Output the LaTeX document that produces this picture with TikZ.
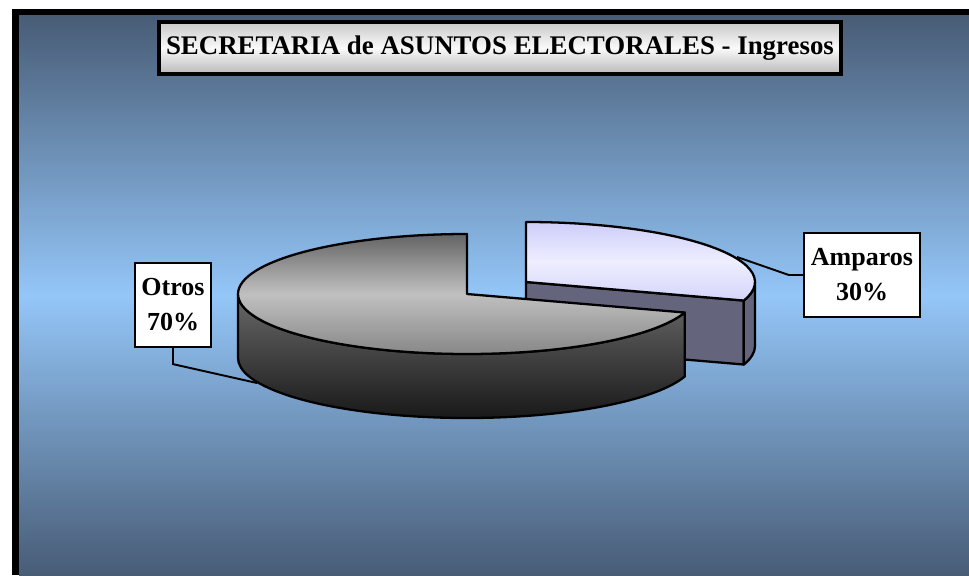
\documentclass[tikz,border=0pt]{standalone}
\usepackage{fontspec}
\setmainfont{Liberation Serif}
\usepackage{tikz}
\usetikzlibrary{calc}

\definecolor{bgdark}{RGB}{72,92,118}
\definecolor{bglight}{RGB}{148,198,248}
\definecolor{ttlA}{RGB}{200,200,200}
\definecolor{ttlB}{RGB}{250,250,250}
\definecolor{ttlC}{RGB}{185,185,185}
\definecolor{otrTopA}{RGB}{100,100,100}
\definecolor{otrTopB}{RGB}{192,192,192}
\definecolor{otrTopC}{RGB}{135,135,135}
\definecolor{otrSideA}{RGB}{105,105,105}
\definecolor{otrSideB}{RGB}{20,20,20}
\definecolor{ampTopA}{RGB}{205,205,250}
\definecolor{ampTopB}{RGB}{238,238,255}
\definecolor{ampTopC}{RGB}{212,212,250}
\definecolor{ampSide}{RGB}{100,100,125}

\begin{document}
\begin{tikzpicture}[x = 0.02cm, y = 0.02cm,
edge/.style = {line width = 1.3pt, line join = round},
rim/.style = {x radius = 229, y radius = 60},
lbl/.style = {draw, fill = white, line width = 1.3pt, align = center, inner sep = 0pt,
  minimum height = 1.68cm, font = \bfseries\fontsize{14.8}{19.9}\selectfont},
ttl/.style = {draw, line width = 1.8pt, top color = ttlA, bottom color = ttlC, middle color = ttlB,
  minimum width = 13.64cm, minimum height = 1.04cm, font = \bfseries\fontsize{15.3}{18}\selectfont}
]
\useasboundingbox (0,0) rectangle (969,575);
% frame and background
\fill[white] (0,0) rectangle (969,575);
\fill[black] (12,0) rectangle (969,566);
\shade[top color = bgdark, bottom color = bgdark, middle color = bglight] (19,0) rectangle (969,559);

\node[ttl] (title) at (500,527) {SECRETARIA de ASUNTOS ELECTORALES - Ingresos};

\coordinate (otrosC) at (467,281);
\coordinate (ampC) at (526,293);

% Amparos, pulled out of the pie
\path[edge, draw, fill = ampSide] (ampC) -- ++(-18:229 and 60) -- ++(0,-64) -- ($(ampC)+(0,-64)$) -- cycle;
\path[edge, draw, fill = ampSide] (ampC) ++(-18:229 and 60) arc[start angle = -18, end angle = 0, rim]
  -- ++(0,-64) arc[start angle = 0, end angle = -18, rim] -- cycle;
\path[edge, draw, top color = ampTopA, bottom color = ampTopC, middle color = ampTopB]
  (ampC) -- ++(-18:229 and 60) arc[start angle = -18, end angle = 90, rim] -- cycle;

% Otros
\path[edge, draw, top color = otrSideA, bottom color = otrSideB] (otrosC) ++(180:229 and 60)
  arc[start angle = 180, end angle = 342, rim] -- ++(0,-64) arc[start angle = 342, end angle = 180, rim] -- cycle;
\path[edge, draw, top color = otrTopA, bottom color = otrTopC, middle color = otrTopB]
  (otrosC) -- ++(90:229 and 60) arc[start angle = 90, end angle = 342, rim] -- cycle;

% labels
\node[lbl, minimum width = 1.52cm] (otros) at (173,270) {Otros\\70\%};
\node[lbl, minimum width = 2.32cm] (amparos) at (862,300) {Amparos\\30\%};
\coordinate (otrosTip) at (257,192);
\coordinate (ampTip) at (737,318);
\draw[line width = 1.1pt] (otros.south) -- ++(0,-16) -- (otrosTip);
\draw[line width = 1.1pt] (amparos.west) -- ++(-14,0) -- (ampTip);
\end{tikzpicture}
\end{document}
